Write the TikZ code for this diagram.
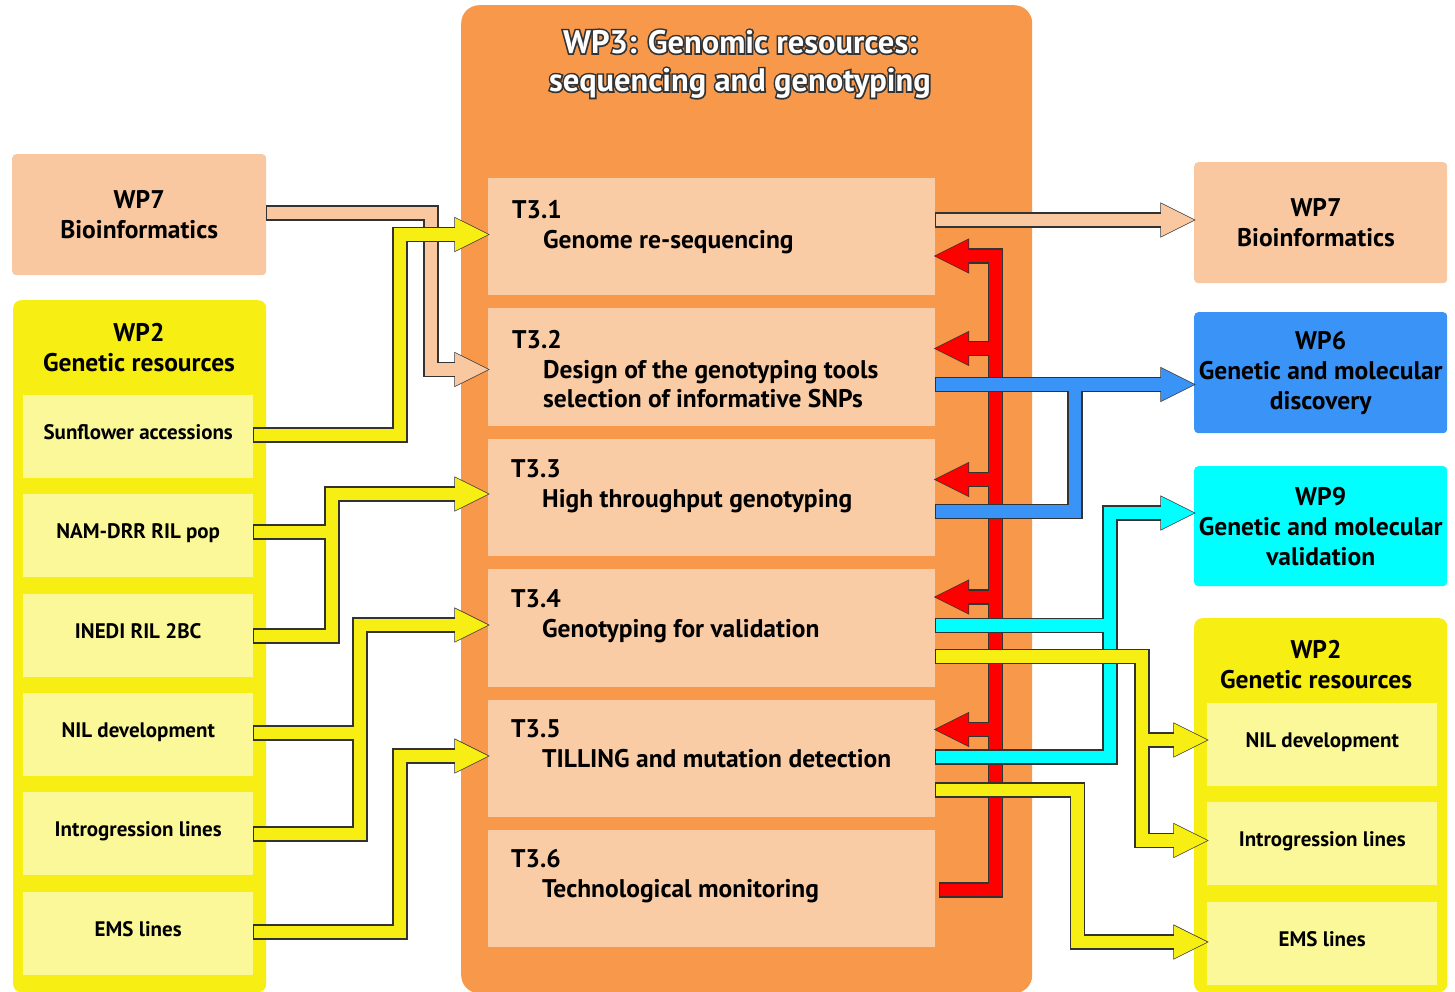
\documentclass[tikz,border=0pt]{standalone}
\usepackage{fontspec}
\setmainfont{PT Sans}
\newfontfamily\halofont{PT Sans}[BoldFeatures={FakeBold=10}]
\usetikzlibrary{calc}
\definecolor{orng}{HTML}{F7984A}
\definecolor{task}{HTML}{FACCA6}
\definecolor{peach}{HTML}{F9C8A1}
\definecolor{yel}{HTML}{F7EE13}
\definecolor{pale}{HTML}{FBF899}
\definecolor{blu}{HTML}{3A93F6}
\definecolor{cyn}{HTML}{00FFFF}
\definecolor{rd}{HTML}{FF0000}
\definecolor{edge}{HTML}{333333}
\tikzset{
  outl/.style={draw=edge, line width=15.5pt, line cap=rect, line join=miter},
  inl/.style={draw=#1, line width=12.8pt, line cap=rect, line join=miter},
  hd/.style={fill=#1, draw=edge, line width=1.4pt, line join=miter},
  boxn/.style={inner sep=0pt, anchor=north west, rounded corners=4pt},
  headtxt/.style={font=\fontsize{25.5}{30}\selectfont\bfseries, align=center, text=black},
  itemtxt/.style={font=\fontsize{21}{24}\selectfont\bfseries, align=center, text=black, text height=16pt, text depth=10pt},
  tasktxt/.style={font=\fontsize{25.5}{30}\selectfont\bfseries, anchor=mid west, inner sep=0pt},
  titletxt/.style={font=\fontsize{32.5}{38}\selectfont\bfseries, align=center, inner sep=0pt},
  halotxt/.style={font=\halofont\fontsize{32.5}{38}\selectfont\bfseries, align=center, inner sep=0pt},
}
\newcommand\conngroup[3]{%
  \draw[outl] #2;
  \path[hd=#1] #3;
  \draw[inl=#1] #2;
  \fill[#1] #3;
}
\begin{document}
\begin{tikzpicture}[x=1pt,y=-1pt]
\useasboundingbox (0,0) rectangle (1455,992);
\fill[white] (0,0) rectangle (1455,992);

% WP3 container
\node[boxn, fill=orng, rounded corners=18pt, minimum width=571pt, minimum height=988pt] (wp3) at (461,5) {};
\coordinate (ttl) at (740,64);
\node[halotxt, text=edge] (halo) at (ttl) {WP3: Genomic resources:\\sequencing and genotyping};
\node[titletxt, text=white] (title) at (ttl) {WP3: Genomic resources:\\sequencing and genotyping};

% tasks
\node[boxn, fill=task, rounded corners=0pt, minimum width=447pt, minimum height=117pt] (t31) at (488,178) {};
\node[boxn, fill=task, rounded corners=0pt, minimum width=447pt, minimum height=118pt] (t32) at (488,308) {};
\node[boxn, fill=task, rounded corners=0pt, minimum width=447pt, minimum height=117pt] (t33) at (488,439) {};
\node[boxn, fill=task, rounded corners=0pt, minimum width=447pt, minimum height=118pt] (t34) at (488,569) {};
\node[boxn, fill=task, rounded corners=0pt, minimum width=447pt, minimum height=117pt] (t35) at (488,700) {};
\node[boxn, fill=task, rounded corners=0pt, minimum width=447pt, minimum height=117pt] (t36) at (488,830) {};
\node[tasktxt] at (512,216) {T3.1};
\node[tasktxt] at (543,246) {Genome re-sequencing};
\node[tasktxt] at (512,346) {T3.2};
\node[tasktxt] at (543,376) {Design of the genotyping tools};
\node[tasktxt] at (543,405) {selection of informative SNPs};
\node[tasktxt] at (511,475) {T3.3};
\node[tasktxt] at (542,505) {High throughput genotyping};
\node[tasktxt] at (511,605) {T3.4};
\node[tasktxt] at (542,635) {Genotyping for validation};
\node[tasktxt] at (511,735) {T3.5};
\node[tasktxt] at (542,765) {TILLING and mutation detection};
\node[tasktxt] at (511,865) {T3.6};
\node[tasktxt] at (542,895) {Technological monitoring};

% left side
\node[boxn, fill=peach, minimum width=254pt, minimum height=121pt, headtxt] (wp7l) at (12,154) {WP7\\Bioinformatics};
\node[boxn, fill=yel, rounded corners=8pt, minimum width=253pt, minimum height=692pt] (wp2l) at (13,300) {};
\node[headtxt] (wp2lt) at (139,348) {WP2\\Genetic resources};
\node[boxn, fill=pale, rounded corners=0pt, minimum width=230pt, minimum height=83pt, itemtxt] (sunfl) at (23,395) {Sunflower accessions};
\node[boxn, fill=pale, rounded corners=0pt, minimum width=230pt, minimum height=83pt, itemtxt] (nam) at (23,494) {NAM-DRR RIL pop};
\node[boxn, fill=pale, rounded corners=0pt, minimum width=230pt, minimum height=83pt, itemtxt] (inedi) at (23,594) {INEDI RIL 2BC};
\node[boxn, fill=pale, rounded corners=0pt, minimum width=230pt, minimum height=83pt, itemtxt] (nill) at (23,693) {NIL development};
\node[boxn, fill=pale, rounded corners=0pt, minimum width=230pt, minimum height=83pt, itemtxt] (introl) at (23,792) {Introgression lines};
\node[boxn, fill=pale, rounded corners=0pt, minimum width=230pt, minimum height=83pt, itemtxt] (emsl) at (23,892) {EMS lines};

% right side
\node[boxn, fill=peach, minimum width=253pt, minimum height=121pt] (wp7r) at (1194,162) {};
\node[headtxt] (wp7rt) at (1316,223) {WP7\\Bioinformatics};
\node[boxn, fill=blu, minimum width=253pt, minimum height=121pt, headtxt] (wp6) at (1194,312) {WP6\\Genetic and molecular\\discovery};
\node[boxn, fill=cyn, minimum width=253pt, minimum height=120pt, headtxt] (wp9) at (1194,466) {WP9\\Genetic and molecular\\validation};
\node[boxn, fill=yel, rounded corners=8pt, minimum width=253pt, minimum height=374pt] (wp2r) at (1194,618) {};
\node[headtxt] (wp2rt) at (1316,665) {WP2\\Genetic resources};
\node[boxn, fill=pale, rounded corners=0pt, minimum width=230pt, minimum height=83pt, itemtxt] (nilr) at (1207,703) {NIL development};
\node[boxn, fill=pale, rounded corners=0pt, minimum width=230pt, minimum height=83pt, itemtxt] (intror) at (1207,802) {Introgression lines};
\node[boxn, fill=pale, rounded corners=0pt, minimum width=230pt, minimum height=83pt, itemtxt] (emsr) at (1207,902) {EMS lines};

% ---- connectors ----
% peach: WP7 -> T3.2 and T3.1 -> WP7
\conngroup{peach}{([xshift=7]wp7l.east |- 0,213) -- (431,213) -- (431,369.5) -- ([xshift=-28]t32.west |- 0,369.5)
  ([xshift=7]t31.east |- 0,220) -- ([xshift=-28]wp7r.west |- 0,220)}
 {(t32.west |- 0,369.5) -- ++(-33,-16.5) -- ++(0,33) -- cycle
  (wp7r.west |- 0,220) -- ++(-33,-16.5) -- ++(0,33) -- cycle}

% yellow left: WP2 items -> tasks
\conngroup{yel}{([xshift=7]sunfl.east |- 0,435) -- (400,435) -- (400,234.5) -- ([xshift=-28]t31.west |- 0,234.5)
  ([xshift=7]nam.east |- 0,532) -- (332,532)
  ([xshift=7]inedi.east |- 0,636) -- (332,636) -- (332,494) -- ([xshift=-28]t33.west |- 0,494)
  ([xshift=7]nill.east |- 0,733) -- (360,733)
  ([xshift=7]introl.east |- 0,834) -- (360,834) -- (360,625) -- ([xshift=-28]t34.west |- 0,625)
  ([xshift=7]emsl.east |- 0,932) -- (400,932) -- (400,756) -- ([xshift=-28]t35.west |- 0,756)}
 {(t31.west |- 0,234.5) -- ++(-33,-16.5) -- ++(0,33) -- cycle
  (t33.west |- 0,494) -- ++(-33,-16.5) -- ++(0,33) -- cycle
  (t34.west |- 0,625) -- ++(-33,-16.5) -- ++(0,33) -- cycle
  (t35.west |- 0,756) -- ++(-33,-16.5) -- ++(0,33) -- cycle}

% red: T3.6 -> T3.1..T3.5
\conngroup{rd}{([xshift=28]t31.east |- 0,256) -- (995.5,256) -- (995.5,890) -- ([xshift=11]t36.east |- 0,890)
  ([xshift=28]t32.east |- 0,348.5) -- (995.5,348.5)
  ([xshift=28]t33.east |- 0,479.5) -- (995.5,479.5)
  ([xshift=28]t34.east |- 0,597) -- (995.5,597)
  ([xshift=28]t35.east |- 0,729.5) -- (995.5,729.5)}
 {(t31.east |- 0,256) -- ++(33,-16.5) -- ++(0,33) -- cycle
  (t32.east |- 0,348.5) -- ++(33,-16.5) -- ++(0,33) -- cycle
  (t33.east |- 0,479.5) -- ++(33,-16.5) -- ++(0,33) -- cycle
  (t34.east |- 0,597) -- ++(33,-16.5) -- ++(0,33) -- cycle
  (t35.east |- 0,729.5) -- ++(33,-16.5) -- ++(0,33) -- cycle}

% blue: T3.2, T3.3 -> WP6
\conngroup{blu}{([xshift=7]t32.east |- 0,384.5) -- ([xshift=-28]wp6.west |- 0,384.5)
  ([xshift=7]t33.east |- 0,511.5) -- (1075,511.5) -- (1075,384.5)}
 {(wp6.west |- 0,384.5) -- ++(-33,-16.5) -- ++(0,33) -- cycle}

% cyan: T3.4, T3.5 -> WP9
\conngroup{cyn}{([xshift=7]t34.east |- 0,625.5) -- (1110,625.5)
  ([xshift=7]t35.east |- 0,757) -- (1110,757) -- (1110,513) -- ([xshift=-28]wp9.west |- 0,513)}
 {(wp9.west |- 0,513) -- ++(-33,-16.5) -- ++(0,33) -- cycle}

% yellow right: T3.4 -> NIL, Introgression ; T3.5 -> EMS
\conngroup{yel}{([xshift=7]t34.east |- 0,656.5) -- (1142,656.5) -- (1142,840.5) -- ([xshift=-28]intror.west |- 0,840.5)
  (1142,740) -- ([xshift=-28]nilr.west |- 0,740)
  ([xshift=7]t35.east |- 0,790) -- (1077.5,790) -- (1077.5,942) -- ([xshift=-28]emsr.west |- 0,942)}
 {(nilr.west |- 0,740) -- ++(-33,-16.5) -- ++(0,33) -- cycle
  (intror.west |- 0,840.5) -- ++(-33,-16.5) -- ++(0,33) -- cycle
  (emsr.west |- 0,942) -- ++(-33,-16.5) -- ++(0,33) -- cycle}
\end{tikzpicture}
\end{document}
